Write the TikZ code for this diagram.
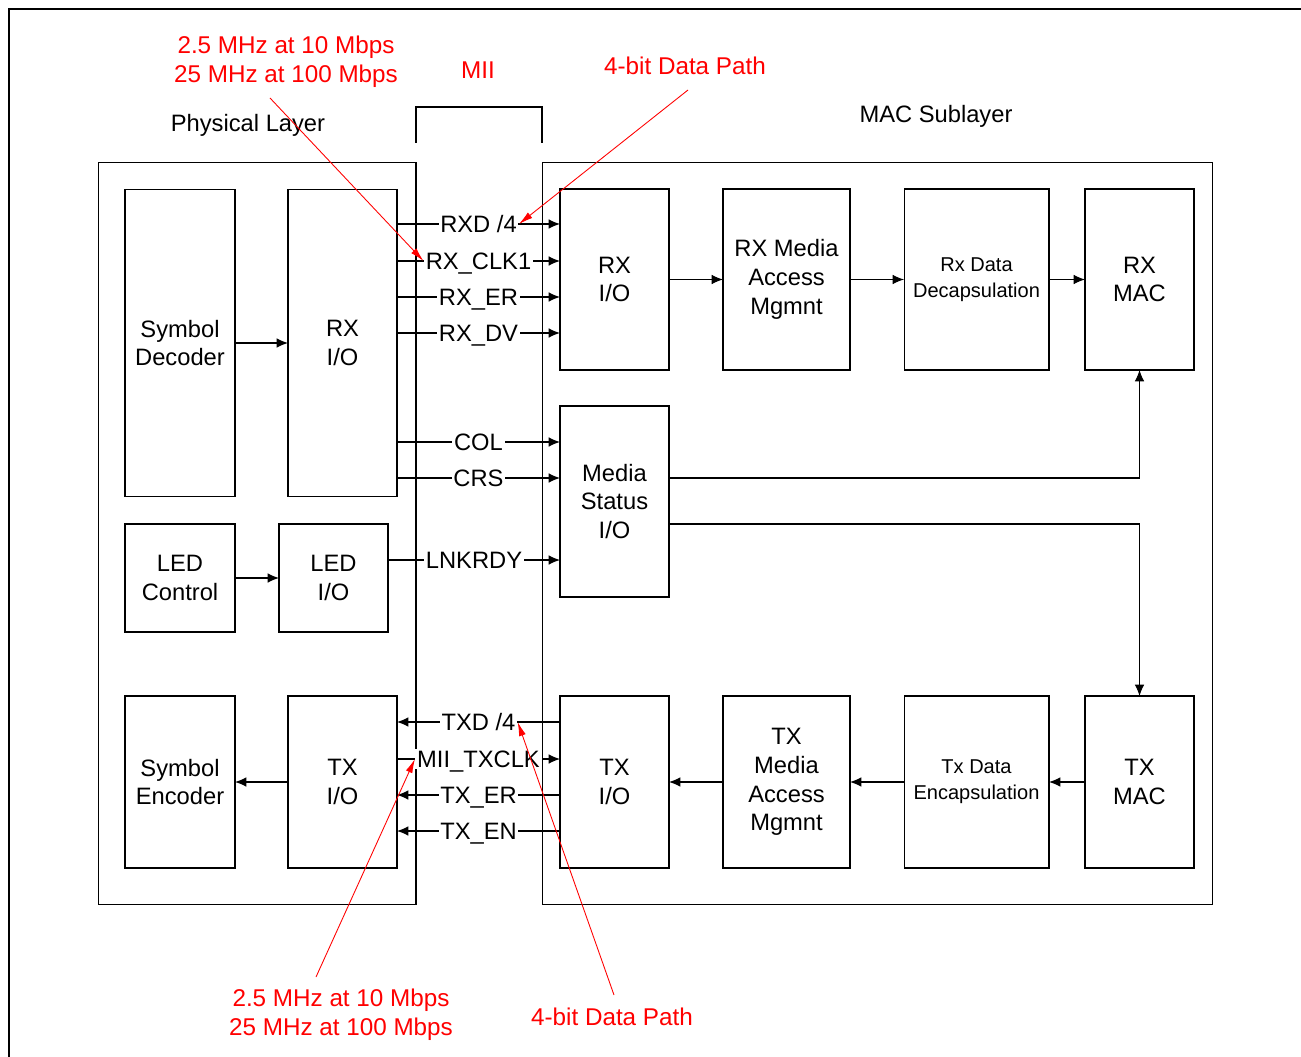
\documentclass[tikz,border=0pt]{standalone}
\usepackage{fontspec}
\setmainfont{Liberation Sans}
\usepackage{tikz}
\usetikzlibrary{arrows.meta}

\begin{document}
\begin{tikzpicture}[x=0.02cm, y=-0.02cm,
        main/.style = {draw, rectangle, line width=0.6pt, inner sep=0pt, outer sep=0pt, align=center, font=\fontsize{13.5}{16.4}\selectfont},
        small/.style = {main, font=\fontsize{11.4}{14.7}\selectfont},
        sig/.style = {fill=white, inner sep=1pt, text height=9.7pt, text depth=0pt, font=\fontsize{13.5}{16}\selectfont},
        note/.style = {red, align=center, font=\fontsize{13.8}{16.4}\selectfont},
        wire/.style = {line width=0.6pt, -{Latex[length=6.5pt, width=5.5pt]}},
        pointer/.style = {red, line width=0.5pt, -{Latex[length=8pt, width=4pt]}}]
            \useasboundingbox (0,0) rectangle (1301,1057);
            \draw[line width=1.3pt] (9,1057) -- (9,9) -- (1301,9);

            \node[main, minimum width=6.36cm, minimum height=14.86cm] (PHY) at (257,533.5) {};
            \node[main, minimum width=13.42cm, minimum height=14.86cm] (MAC) at (877.5,533.5) {};
            \node[font=\fontsize{13.5}{16}\selectfont] (phylabel) at (248,125) {Physical Layer};
            \node[font=\fontsize{13.5}{16}\selectfont] (maclabel) at (936,116) {MAC Sublayer};
            \draw[line width=0.6pt] (416,143) -- (416,107) -- (542,107) -- (542,143);
            \node[note] (mii) at (478,70) {MII};

            \node[main, minimum width=2.2cm, minimum height=6.16cm] (SD) at (180,343) {Symbol\\Decoder};
            \node[main, minimum width=2.18cm, minimum height=6.16cm] (PRX) at (342.5,343) {RX\\I/O};
            \node[main, minimum width=2.2cm, minimum height=2.16cm] (LC) at (180,578) {LED\\Control};
            \node[main, minimum width=2.18cm, minimum height=2.16cm] (LIO) at (333.5,578) {LED\\I/O};
            \node[main, minimum width=2.2cm, minimum height=3.44cm] (SE) at (180,782) {Symbol\\Encoder};
            \node[main, minimum width=2.18cm, minimum height=3.44cm] (PTX) at (342.5,782) {TX\\I/O};

            \node[main, minimum width=2.18cm, minimum height=3.62cm] (MRX) at (614.5,279.5) {RX\\I/O};
            \node[main, minimum width=2.54cm, minimum height=3.62cm] (RMA) at (786.5,279.5) {RX Media\\Access\\Mgmnt};
            \node[small, minimum width=2.9cm, minimum height=3.62cm] (DEC) at (976.5,279.5) {Rx Data\\Decapsulation};
            \node[main, minimum width=2.18cm, minimum height=3.62cm] (RMAC) at (1139.5,279.5) {RX\\MAC};
            \node[main, minimum width=2.18cm, minimum height=3.82cm] (MS) at (614.5,501.5) {Media\\Status\\I/O};
            \node[main, minimum width=2.18cm, minimum height=3.44cm] (MTX) at (614.5,782) {TX\\I/O};
            \node[main, minimum width=2.54cm, minimum height=3.44cm] (TMA) at (786.5,782) {TX\\Media\\Access\\Mgmnt};
            \node[small, minimum width=2.9cm, minimum height=3.44cm] (ENC) at (976.5,782) {Tx Data\\Encapsulation};
            \node[main, minimum width=2.18cm, minimum height=3.44cm] (TMAC) at (1139.5,782) {TX\\MAC};

            \path[wire] (SD) edge (PRX);
            \path[wire] (LC) edge (LIO);
            \path[wire] (PTX) edge (SE);
            \path[wire] (MRX) edge (RMA);
            \path[wire] (RMA) edge (DEC);
            \path[wire] (DEC) edge (RMAC);
            \path[wire] (TMAC) edge (ENC);
            \path[wire] (ENC) edge (TMA);
            \path[wire] (TMA) edge (MTX);

            \coordinate (r1) at (0,224);
            \coordinate (r2) at (0,261);
            \coordinate (r3) at (0,297);
            \coordinate (r4) at (0,333);
            \coordinate (c1) at (0,442);
            \coordinate (c2) at (0,478);
            \coordinate (k1) at (0,560);
            \coordinate (m2) at (0,524);
            \coordinate (t1) at (0,722);
            \coordinate (t2) at (0,759);
            \coordinate (t3) at (0,795);
            \coordinate (t4) at (0,831);

            \path[wire] (PRX.east |- r1) edge node[sig] (rxd) {RXD /4} (MRX.west |- r1);
            \path[wire] (PRX.east |- r2) edge node[sig] (rxclk) {RX\_CLK1} (MRX.west |- r2);
            \path[wire] (PRX.east |- r3) edge node[sig] {RX\_ER} (MRX.west |- r3);
            \path[wire] (PRX.east |- r4) edge node[sig] {RX\_DV} (MRX.west |- r4);
            \path[wire] (PRX.east |- c1) edge node[sig] {COL} (MS.west |- c1);
            \path[wire] (PRX.east |- c2) edge node[sig] {CRS} (MS.west |- c2);
            \path[wire] (LIO.east |- k1) edge node[sig] {LNKRDY} (MS.west |- k1);
            \path[wire] (MTX.west |- t1) edge node[sig] (txd) {TXD /4} (PTX.east |- t1);
            \path[wire] (PTX.east |- t2) edge node[sig] (txclk) {MII\_TXCLK} (MTX.west |- t2);
            \path[wire] (MTX.west |- t3) edge node[sig] {TX\_ER} (PTX.east |- t3);
            \path[wire] (MTX.west |- t4) edge node[sig] {TX\_EN} (PTX.east |- t4);

            \draw[wire] (MS.east |- c2) -| (RMAC);
            \draw[wire] (MS.east |- m2) -| (TMAC);

            \node[note] (clknote) at (286,62) {2.5 MHz at 10 Mbps\\25 MHz at 100 Mbps};
            \node[note] (datanote) at (685,66) {4-bit Data Path};
            \node[note] (txclknote) at (341,1015) {2.5 MHz at 10 Mbps\\25 MHz at 100 Mbps};
            \node[note] (txdnote) at (612,1017) {4-bit Data Path};
            \coordinate (n1) at (270,98);
            \coordinate (n2) at (688,90);
            \coordinate (n3) at (316,977);
            \coordinate (n4) at (614,995);
            \draw[pointer] (n1) -- (rxclk.west);
            \draw[pointer] (n2) -- (rxd.east);
            \draw[pointer] (n3) -- (txclk.west);
            \draw[pointer] (n4) -- (txd.east);
        \end{tikzpicture}
\end{document}
